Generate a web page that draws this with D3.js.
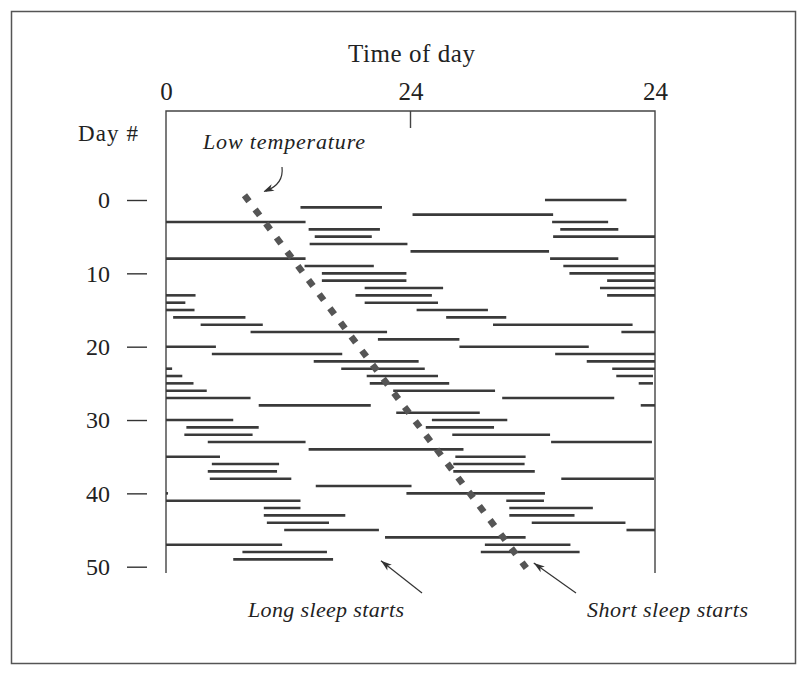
<!DOCTYPE html>
<html>
<head>
<meta charset="utf-8">
<script src="https://cdn.jsdelivr.net/npm/d3@7"></script>
<style>
  body { margin: 0; background: #fff; }
  svg { display: block; }
  text { font-family: "Liberation Serif", "DejaVu Serif", serif; fill: #222; }
</style>
</head>
<body>
<svg id="svg1" width="800" height="680"></svg>
<script>
// tick values and labels
var dayTicks = [0, 10, 20, 30, 40, 50];
var hourTicks = [0, 24, 48];
var hourLabels = ['0', '24', '24'];

// sleep bars, double plotted: [row (day #), start hour, end hour] on a 0-48 h row
var sleepBars = [
    [0, 37.2, 45.2],
    [1, 13.2, 21.2],
    [2, 24.2, 38.0],
    [3, 0, 13.7], [3, 37.9, 43.4],
    [4, 14.0, 21.0], [4, 38.7, 44.4],
    [5, 14.6, 20.2], [5, 38.0, 48],
    [6, 14.1, 23.7],
    [7, 24.0, 37.6],
    [8, 0, 13.7], [8, 37.7, 44.4],
    [9, 13.6, 20.4], [9, 39.0, 48],
    [10, 15.3, 23.6], [10, 39.6, 48],
    [11, 15.3, 23.6], [11, 43.3, 48],
    [12, 19.5, 27.2], [12, 42.6, 48],
    [13, 0, 2.9], [13, 18.6, 26.1], [13, 43.3, 48],
    [14, 0, 1.9], [14, 19.5, 26.7],
    [15, 0, 2.8], [15, 24.6, 31.6],
    [16, 0.7, 7.8], [16, 27.5, 33.4],
    [17, 3.4, 9.5], [17, 32.1, 45.8],
    [18, 8.3, 21.7], [18, 44.7, 48],
    [19, 20.8, 28.8],
    [20, 0, 4.9], [20, 28.8, 41.5],
    [21, 4.5, 17.3], [21, 38.2, 48],
    [22, 14.5, 24.8], [22, 41.3, 48],
    [23, 0, 0.6], [23, 17.2, 25.4], [23, 43.8, 48],
    [24, 0, 1.6], [24, 19.7, 26.7], [24, 44.2, 47.8],
    [25, 0, 2.7], [25, 20.0, 27.8], [25, 46.4, 47.8],
    [26, 0, 4.0], [26, 22.3, 32.3],
    [27, 0, 8.3], [27, 33.0, 44.0],
    [28, 9.1, 20.1], [28, 46.6, 48],
    [29, 22.6, 30.8],
    [30, 0, 6.6], [30, 26.1, 33.5],
    [31, 2.0, 9.1], [31, 25.5, 32.2],
    [32, 1.8, 8.5], [32, 28.1, 37.7],
    [33, 4.1, 13.7], [33, 37.8, 47.7],
    [34, 14.0, 29.2],
    [35, 0, 5.3], [35, 28.4, 35.3],
    [36, 4.5, 11.1], [36, 28.2, 35.2],
    [37, 4.1, 10.9], [37, 28.2, 36.2],
    [38, 4.3, 12.3], [38, 38.8, 47.9],
    [39, 14.7, 24.1],
    [40, 0, 0.2], [40, 23.6, 37.2],
    [41, 0, 13.2], [41, 33.4, 37.1],
    [42, 9.6, 13.2], [42, 33.7, 41.9],
    [43, 9.6, 17.6], [43, 33.7, 40.1],
    [44, 9.9, 16.0], [44, 35.9, 45.1],
    [45, 11.6, 20.9], [45, 45.2, 48],
    [46, 21.5, 35.3],
    [47, 0, 11.4], [47, 31.3, 39.7],
    [48, 7.5, 15.8], [48, 30.9, 40.6],
    [49, 6.6, 16.4]
];

// low body temperature trend line (day #, hour)
var lowTempDay = [-0.64, 50.18];
var lowTempHour = [7.7, 35.37];

var svg = d3.select('#svg1');

var x = d3.scaleLinear().domain([0, 48]).range([166, 655]);
var y = d3.scaleLinear().domain([0, 50]).range([200, 566.7]);

var frameTop = 111;
var frameBottom = 573;

// outer border of the figure
svg.append('rect')
    .attr('x', 11.5).attr('y', 11.5)
    .attr('width', 784).attr('height', 652)
    .attr('fill', 'none')
    .attr('stroke', '#555')
    .attr('stroke-width', 1.5);

// plot frame: left, top and right sides, plus the short tick at 24 h
svg.append('path')
    .attr('d', 'M' + x(0) + ',' + frameBottom + 'V' + frameTop + 'H' + x(48) + 'V' + frameBottom)
    .attr('fill', 'none')
    .attr('stroke', '#444')
    .attr('stroke-width', 1.4);

svg.append('line')
    .attr('x1', x(24)).attr('x2', x(24))
    .attr('y1', frameTop).attr('y2', frameTop + 17)
    .attr('stroke', '#444')
    .attr('stroke-width', 1.4);

// top axis labels
var topAxis = svg.append('g')
    .attr('transform', 'translate(0,' + frameTop + ')')
    .call(d3.axisTop(x)
        .tickValues(hourTicks)
        .tickSize(0)
        .tickPadding(11)
        .tickFormat(function(d, i) { return hourLabels[i]; }));
topAxis.select('.domain').remove();
topAxis.selectAll('text')
    .attr('font-family', '"Liberation Serif", serif')
    .attr('font-size', 25)
    .attr('fill', '#222');

// left axis: detached dashes with day numbers
var leftAxis = svg.append('g')
    .attr('transform', 'translate(147,0)')
    .call(d3.axisLeft(y)
        .tickValues(dayTicks)
        .tickSize(20)
        .tickPadding(17));
leftAxis.select('.domain').remove();
leftAxis.selectAll('line')
    .attr('stroke', '#333')
    .attr('stroke-width', 1.4);
leftAxis.selectAll('text')
    .attr('font-family', '"Liberation Serif", serif')
    .attr('font-size', 24)
    .attr('fill', '#222');

// sleep bars
svg.append('g')
    .selectAll('line')
    .data(sleepBars)
    .enter()
    .append('line')
    .attr('x1', function(d) { return x(d[1]); })
    .attr('x2', function(d) { return x(d[2]); })
    .attr('y1', function(d) { return y(d[0]); })
    .attr('y2', function(d) { return y(d[0]); })
    .attr('stroke', '#3a3a3a')
    .attr('stroke-width', 2.6);

// low temperature dotted line
var tempLine = d3.line()
    .x(function(d) { return x(d[1]); })
    .y(function(d) { return y(d[0]); });

svg.append('path')
    .datum(d3.zip(lowTempDay, lowTempHour))
    .attr('d', tempLine)
    .attr('fill', 'none')
    .attr('stroke', '#555')
    .attr('stroke-width', 6.5)
    .attr('stroke-dasharray', '7.5 10.2');

// titles
svg.append('text')
    .attr('x', 348).attr('y', 62)
    .attr('font-size', 25)
    .attr('textLength', 127)
    .attr('lengthAdjust', 'spacing')
    .text('Time of day');

svg.append('text')
    .attr('x', 78).attr('y', 141)
    .attr('font-size', 23)
    .attr('textLength', 60)
    .attr('lengthAdjust', 'spacing')
    .text('Day #');

// annotations
function arrowHead(tipX, tipY, fromX, fromY) {
    var a = Math.atan2(tipY - fromY, tipX - fromX);
    var len = 11, half = 3.6;
    var bx = tipX - len * Math.cos(a), by = tipY - len * Math.sin(a);
    var px = -Math.sin(a) * half, py = Math.cos(a) * half;
    svg.append('path')
        .attr('d', 'M' + tipX + ',' + tipY + 'L' + (bx + px) + ',' + (by + py) +
            'L' + (bx + 3 * Math.cos(a)) + ',' + (by + 3 * Math.sin(a)) +
            'L' + (bx - px) + ',' + (by - py) + 'Z')
        .attr('fill', '#333');
}

function straightArrow(x0, y0, x1, y1) {
    svg.append('line')
        .attr('x1', x0).attr('y1', y0).attr('x2', x1).attr('y2', y1)
        .attr('stroke', '#333')
        .attr('stroke-width', 1.2);
    arrowHead(x1, y1, x0, y0);
}

function note(tx, ty, label, width) {
    svg.append('text')
        .attr('x', tx).attr('y', ty)
        .attr('font-style', 'italic')
        .attr('font-size', 22)
        .attr('textLength', width)
        .attr('lengthAdjust', 'spacing')
        .text(label);
}

note(203, 149, 'Low temperature', 162);
svg.append('path')
    .attr('d', 'M282,167 Q284,184 266,191')
    .attr('fill', 'none')
    .attr('stroke', '#333')
    .attr('stroke-width', 1.2);
arrowHead(263, 192, 272, 188);

note(248, 617, 'Long sleep starts', 156);
straightArrow(422, 593, x(21.1), y(49.2));

note(587, 617, 'Short sleep starts', 161);
straightArrow(576, 593, x(36.1), y(49.5));
</script>
</body>
</html>
